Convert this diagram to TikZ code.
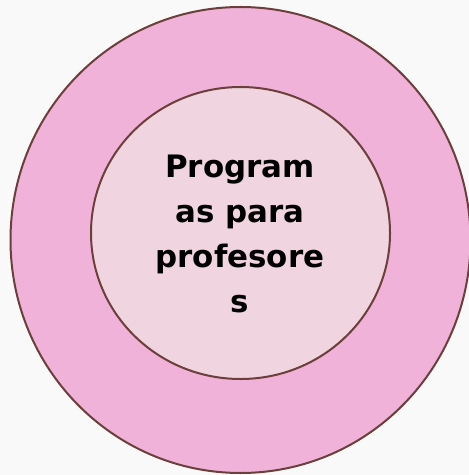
\documentclass[tikz,border=0pt]{standalone}
\usepackage{fontspec}
\setmainfont{DejaVu Sans}
\definecolor{bg}{HTML}{F9F9F9}
\definecolor{outerfill}{HTML}{F0B2D8}
\definecolor{innerfill}{HTML}{F0D4DF}
\definecolor{edge}{HTML}{6B3F3A}
\tikzset{ring/.style={draw=edge,line width=2bp}}
\begin{document}
\begin{tikzpicture}[x=1bp,y=-1bp]
\fill[bg] (0,0) rectangle (469,475);
\useasboundingbox (0,0) rectangle (469,475);
\path[ring,fill=outerfill] (240.5,240) ellipse [x radius=230,y radius=233];
\path[ring,fill=innerfill] (240.5,233) ellipse [x radius=149.5,y radius=146];
\node (lbl) at (240,234) [align=center,font=\fontsize{31}{45}\selectfont\bfseries] {Program\\as para\\profesore\\s};
\end{tikzpicture}
\end{document}
